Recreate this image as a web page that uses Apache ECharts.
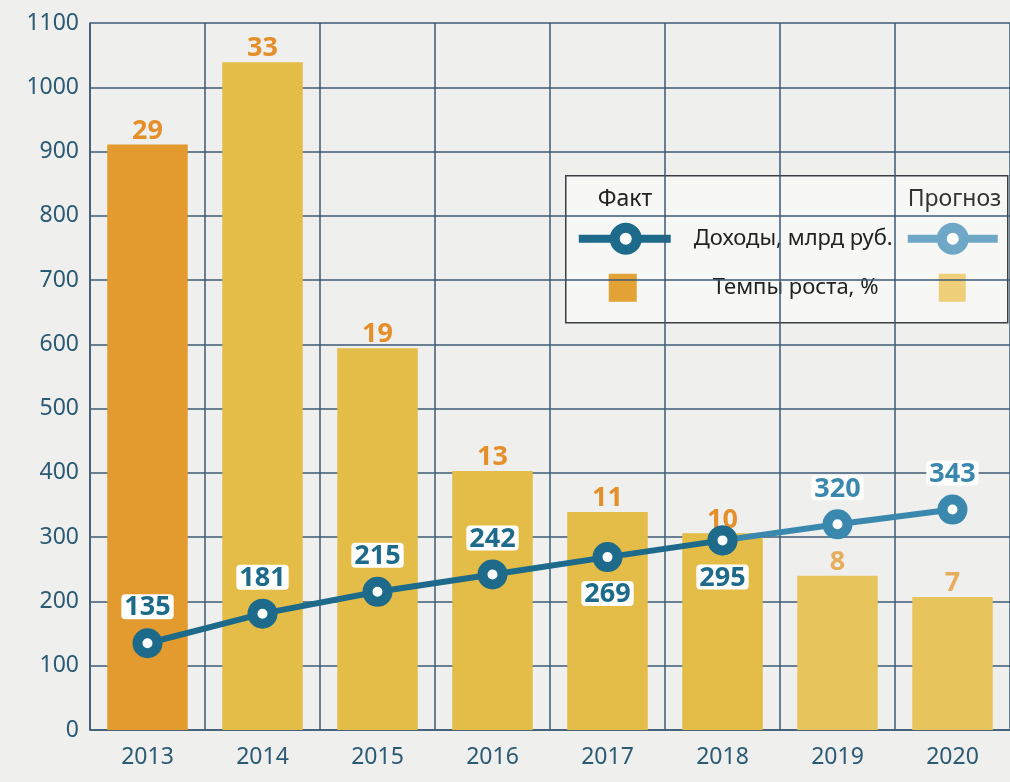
<!DOCTYPE html>
<html lang="ru">
<head>
    <meta charset="UTF-8">
    <title>Доходы и темпы роста</title>
    <style>
        body {
            margin: 0;
            padding: 0;
            background-color: #efefed;
        }

        #chart {
            width: 1010px;
            height: 782px;
        }
    </style>
    <script src="https://cdn.jsdelivr.net/npm/echarts@6/dist/echarts.min.js"></script>
</head>
<body>
    <div id="chart"></div>

    <script>
        // data
        const years = ['2013', '2014', '2015', '2016', '2017', '2018', '2019', '2020'];
        const income = [135, 181, 215, 242, 269, 295, 320, 343];      // доходы, млрд руб.
        const growth = [29, 33, 19, 13, 11, 10, 8, 7];                // темпы роста, %
        const barHeight = [911, 1039, 594, 403, 339, 306, 240, 207];  // bar height on the left scale
        const incomeLabelPos = ['top', 'top', 'top', 'top', 'bottom', 'bottom', 'top', 'top'];
        const lastFact = 5; // 2018 is the last actual year

        const factColor = '#1d6a8a';
        const forecastColor = '#3a88ae';
        const gridColor = '#3d5a74';

        function barColor(i) {
            if (i === 0) return '#e39a2e';
            if (i > lastFact) return '#e8c55c';
            return '#e3bd47';
        }

        const bars = barHeight.map((v, i) => ({
            value: v,
            itemStyle: { color: barColor(i) },
            label: {
                formatter: String(growth[i]),
                color: i > lastFact ? '#e6ae5c' : '#e58f2a'
            }
        }));

        const factData = income.map((v, i) => (i <= lastFact ? v : null));
        const forecastData = income.map((v, i) => (i >= lastFact ? v : null));

        function pointData(values, color, skip) {
            return values.map((v, i) => {
                if (v === null) return null;
                return {
                    value: v,
                    label: {
                        show: !skip(i),
                        position: incomeLabelPos[i],
                        color: color
                    }
                };
            });
        }

        const numberLabel = {
            fontFamily: 'Noto Sans',
            fontWeight: 'bold',
            fontSize: 27
        };

        const chart = echarts.init(document.getElementById('chart'));

        const option = {
            backgroundColor: '#efefed',
            animation: false,
            grid: {
                left: 90,
                width: 928,
                top: 23,
                bottom: 52
            },
            xAxis: {
                type: 'category',
                data: years,
                axisLine: { lineStyle: { color: gridColor, width: 1.5 } },
                axisTick: { show: false },
                splitLine: { show: true, lineStyle: { color: gridColor, width: 1.5 } },
                axisLabel: {
                    color: '#2b5a74',
                    fontFamily: 'Noto Sans',
                    fontSize: 23,
                    margin: 16
                }
            },
            yAxis: {
                type: 'value',
                min: 0,
                max: 1100,
                interval: 100,
                axisLine: { show: true, lineStyle: { color: gridColor, width: 1.5 } },
                axisTick: { show: false },
                splitLine: { lineStyle: { color: gridColor, width: 1.5 } },
                axisLabel: {
                    color: '#2b5a74',
                    fontFamily: 'Noto Sans',
                    fontSize: 23,
                    margin: 11,
                    formatter: v => String(v)
                }
            },
            series: [
                {
                    name: 'Темпы роста, %',
                    type: 'bar',
                    data: bars,
                    barWidth: '70%',
                    label: Object.assign({ show: true, position: 'top', distance: 0 }, numberLabel),
                    z: 1
                },
                {
                    name: 'Прогноз',
                    type: 'line',
                    data: pointData(forecastData, forecastColor, i => i <= lastFact),
                    symbol: 'circle',
                    symbolSize: 20,
                    lineStyle: { color: forecastColor, width: 6 },
                    itemStyle: { color: '#ffffff', borderColor: forecastColor, borderWidth: 10 },
                    label: Object.assign({
                        backgroundColor: '#ffffff',
                        borderRadius: 4,
                        padding: [0, 3, -2, 3],
                        distance: 9
                    }, numberLabel),
                    z: 3
                },
                {
                    name: 'Факт',
                    type: 'line',
                    data: pointData(factData, factColor, () => false),
                    symbol: 'circle',
                    symbolSize: 20,
                    lineStyle: { color: factColor, width: 6 },
                    itemStyle: { color: '#ffffff', borderColor: factColor, borderWidth: 10 },
                    label: Object.assign({
                        backgroundColor: '#ffffff',
                        borderRadius: 4,
                        padding: [0, 3, -2, 3],
                        distance: 9
                    }, numberLabel),
                    z: 4
                }
            ],
            graphic: [
                {
                    type: 'group',
                    left: 565,
                    top: 175,
                    children: [
                        {
                            type: 'rect',
                            shape: { x: 0, y: 0, width: 442, height: 147 },
                            style: { fill: '#f7f7f5', stroke: '#3a3f44', lineWidth: 1.5 }
                        },
                        {
                            type: 'text',
                            x: 32, y: 24,
                            style: { text: 'Факт', font: '23px "Noto Sans"', fill: '#222', verticalAlign: 'middle' }
                        },
                        {
                            type: 'text',
                            x: 342, y: 24,
                            style: { text: 'Прогноз', font: '23px "Noto Sans"', fill: '#333', verticalAlign: 'middle' }
                        },
                        {
                            type: 'line',
                            shape: { x1: 13, y1: 63, x2: 105, y2: 63 },
                            style: { stroke: factColor, lineWidth: 8 }
                        },
                        {
                            type: 'circle',
                            shape: { cx: 60, cy: 63, r: 11 },
                            style: { fill: '#ffffff', stroke: factColor, lineWidth: 10 }
                        },
                        {
                            type: 'line',
                            shape: { x1: 342, y1: 63, x2: 432, y2: 63 },
                            style: { stroke: '#6fa8c6', lineWidth: 8 }
                        },
                        {
                            type: 'circle',
                            shape: { cx: 387, cy: 63, r: 11 },
                            style: { fill: '#ffffff', stroke: '#6fa8c6', lineWidth: 10 }
                        },
                        {
                            type: 'text',
                            x: 128, y: 63,
                            style: { text: 'Доходы, млрд руб.', font: '22px "Noto Sans"', fill: '#222', verticalAlign: 'middle' }
                        },
                        {
                            type: 'rect',
                            shape: { x: 43, y: 98, width: 28, height: 28 },
                            style: { fill: '#e3a235' }
                        },
                        {
                            type: 'rect',
                            shape: { x: 373, y: 98, width: 27, height: 28 },
                            style: { fill: '#f0cf7a' }
                        },
                        {
                            type: 'text',
                            x: 147, y: 112,
                            style: { text: 'Темпы роста, %', font: '22px "Noto Sans"', fill: '#222', verticalAlign: 'middle' }
                        }
                    ]
                }
            ]
        };

        chart.setOption(option);
    </script>
</body>
</html>
